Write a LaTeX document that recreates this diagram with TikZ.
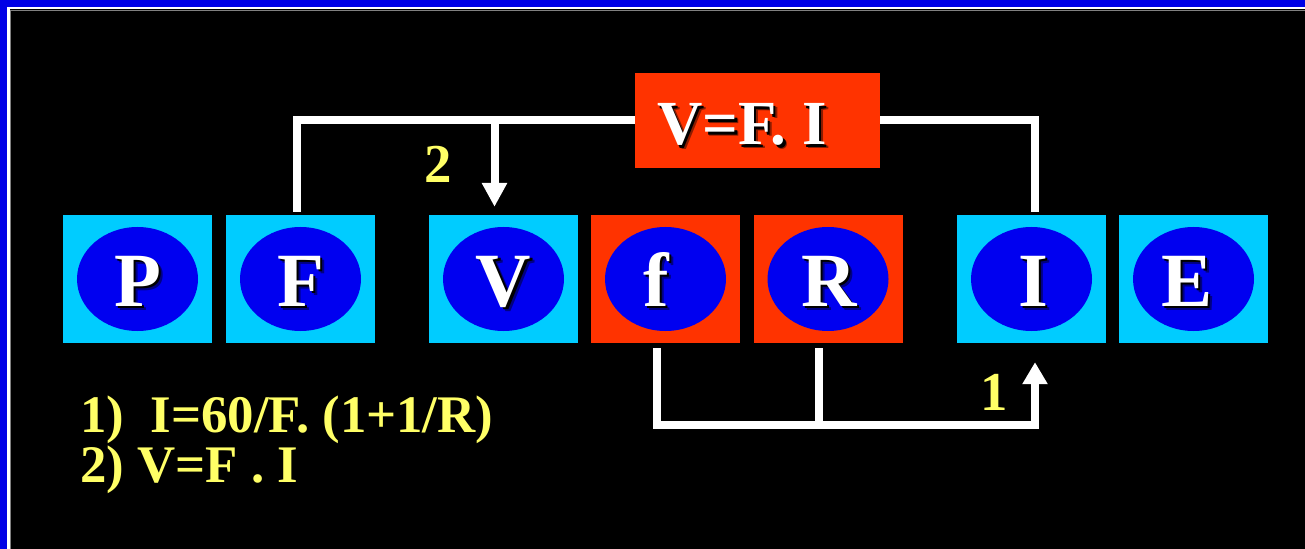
\documentclass[tikz,border=0pt]{standalone}
\usepackage{fontspec}
\setmainfont{Liberation Serif}
\usetikzlibrary{arrows.meta,calc,shapes.geometric}
\definecolor{borderblue}{RGB}{0,0,230}
\definecolor{cellcyan}{RGB}{0,204,255}
\definecolor{cellred}{RGB}{255,51,0}
\definecolor{ovalblue}{RGB}{0,0,240}
\definecolor{labelyellow}{RGB}{255,255,102}
\tikzset{
  cellbox/.style={rectangle, draw=none, minimum width=149bp, minimum height=128bp, inner sep=0pt},
  oval/.style={ellipse, fill=ovalblue, draw=none, minimum width=121bp, minimum height=104bp, inner sep=0pt},
  letter/.style={font=\fontsize{77}{77}\selectfont\bfseries, text=white, inner sep=0pt, anchor=base},
  lettershadow/.style={letter, text=black},
  eqbox/.style={rectangle, fill=cellred, draw=none, minimum width=245bp, minimum height=95bp, inner sep=0pt},
  eqtext/.style={font=\fontsize{63}{63}\selectfont\bfseries, text=white, inner sep=0pt, anchor=base west},
  wire/.style={draw=white, line width=8bp, line join=miter},
  numlbl/.style={font=\fontsize{55}{55}\selectfont\bfseries, text=labelyellow, inner sep=0pt, anchor=base},
  formula/.style={font=\fontsize{53}{53}\selectfont\bfseries, text=labelyellow, inner sep=0pt, anchor=base west}
}
% name, box x, fill, letter, letter x
\newcommand\mkcell[5]{%
  \node[cellbox, fill=#3] (#1) at (#2,279) {};
  \node[oval] (#1o) at (#1) {};
  \node[lettershadow, opacity=.45] (#1s) at (#5+4.5,310.5) {#4};
  \node[lettershadow] (#1d) at (#5+2.5,308.5) {#4};
  \node[letter] (#1l) at (#5,306) {#4};
}
\begin{document}
\begin{tikzpicture}[x=1bp,y=-1bp]
\useasboundingbox (0,0) rectangle (1305,549);
% frame
\fill[borderblue] (0,0) rectangle (1305,549);
\fill[white] (7.3,7.3) rectangle (1305,549);
\fill[black] (9.5,9.5) rectangle (1305,549);
\draw[gray, line width=1bp] (10.5,549) -- (10.5,10.5) -- (1305,10.5);

% cells
\mkcell{P}{137.5}{cellcyan}{P}{137.5}
\mkcell{F}{300.5}{cellcyan}{F}{300.5}
\mkcell{V}{503.5}{cellcyan}{V}{503.5}
\mkcell{f}{665.5}{cellred}{f}{656}
\mkcell{R}{828}{cellred}{R}{829}
\mkcell{I}{1031.5}{cellcyan}{I}{1033}
\mkcell{E}{1193.5}{cellcyan}{E}{1187}

% equation box
\node[eqbox] (eq) at (757.5,120.5) {};
\node[eqtext, text=black, opacity=.45] (eqs2) at (661,149) {V=F. I};
\node[eqtext, text=black] (eqs) at (659.5,147.5) {V=F. I};
\node[eqtext] (eqt) at (657,145) {V=F. I};

% top connectors
\draw[wire] ([shift={(-3.5,-3)}]F.north) |- (eq.west);
\draw[wire] (eq.east) -| ([shift={(3.5,-3)}]I.north);
\coordinate (vtip) at ([shift={(-9,-8)}]V.north);
\draw[wire, -{Triangle[width=24bp,length=24bp]}] (vtip |- eq.west) -- (vtip);

% bottom connectors
\coordinate (fa) at ([shift={(-8.5,5)}]f.south);
\coordinate (ra) at ([shift={(-9,5)}]R.south);
\coordinate (itip) at ([shift={(3.5,19)}]I.south);
\coordinate (bl) at ($(fa)+(0,77)$);
\draw[wire, -{Triangle[width=24bp,length=22bp]}] (fa) -- (bl) -| (itip);
\draw[wire] (ra) -- (ra |- bl);

% labels
\node[numlbl] (n2) at (438,183) {2};
\node[numlbl] (n1) at (994,410) {1};
\node[formula] (form1) at (80,432) {1)\hspace{.5em}I=60/F. (1+1/R)};
\node[formula] (form2) at (80,482) {2) V=F . I};
\end{tikzpicture}
\end{document}
